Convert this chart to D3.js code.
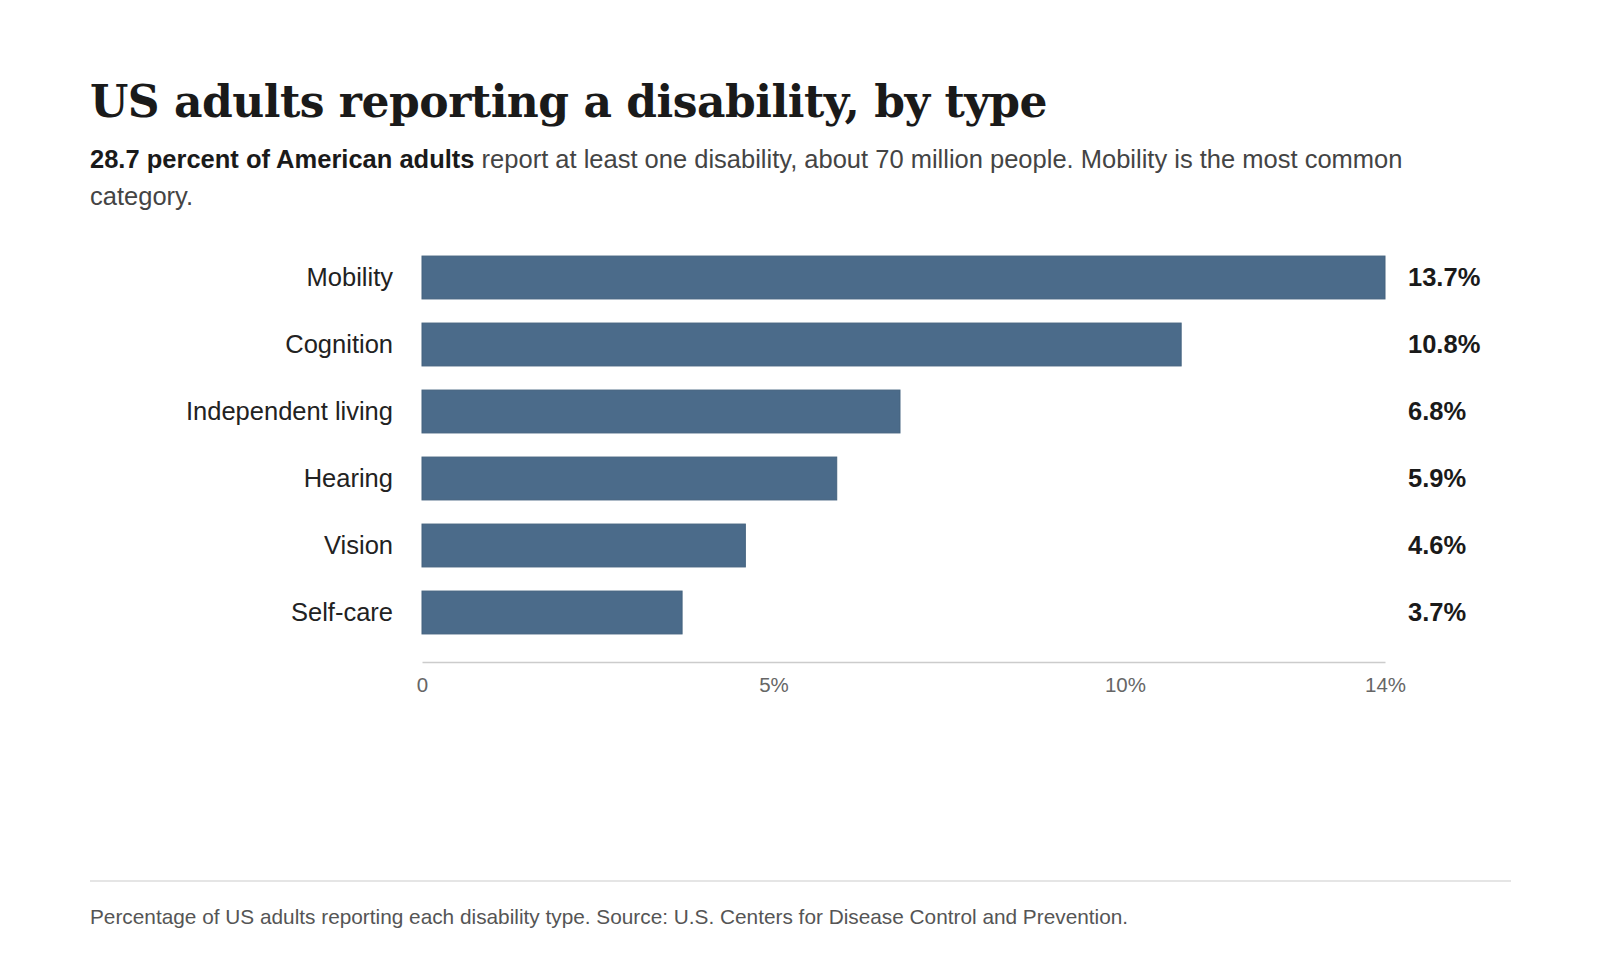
<!DOCTYPE html>
<html>
<head>
<meta charset="utf-8">
<script src="https://cdn.jsdelivr.net/npm/d3@7"></script>
<style>
  html, body { margin: 0; padding: 0; background: #fff; }
  svg { display: block; }
</style>
</head>
<body>
<div id="chart"></div>
<script>
// Data
const categories = ["Mobility", "Cognition", "Independent living", "Hearing", "Vision", "Self-care"];
const values = [13.7, 10.8, 6.8, 5.9, 4.6, 3.7];
const tickValues = [0, 5, 10, 13.7];

const titleText = "US adults reporting a disability, by type";
const subtitleBold = "28.7 percent of American adults";
const subtitleRest = " report at least one disability, about 70 million people. Mobility is the most common";
const subtitleLine2 = "category.";
const footerText = "Percentage of US adults reporting each disability type. Source: U.S. Centers for Disease Control and Prevention.";

const width = 1600, height = 960;
const left = 90, right = 1511;
const sans = "'Liberation Sans', Arial, Helvetica, sans-serif";

const svg = d3.select("#chart").append("svg")
    .attr("width", width)
    .attr("height", height)
    .attr("viewBox", `0 0 ${width} ${height}`);

svg.append("rect")
    .attr("width", width)
    .attr("height", height)
    .attr("fill", "#fff");

// Title + subtitle
svg.append("text")
    .attr("x", left)
    .attr("y", 117)
    .attr("font-family", "'DejaVu Serif', Georgia, serif")
    .attr("font-weight", "bold")
    .attr("font-size", 44)
    .attr("letter-spacing", -0.5)
    .attr("fill", "#1a1a1a")
    .text(titleText);

const sub = svg.append("text")
    .attr("font-family", sans)
    .attr("font-size", 25.5)
    .attr("fill", "#444");
const line1 = sub.append("tspan").attr("x", left).attr("y", 168);
line1.append("tspan").attr("font-weight", "bold").attr("fill", "#1a1a1a").text(subtitleBold);
line1.append("tspan").text(subtitleRest);
sub.append("tspan").attr("x", left).attr("y", 205).text(subtitleLine2);

// Scales
const x = d3.scaleLinear()
    .domain([0, d3.max(values)])
    .range([422, 1385]);

const y = d3.scaleBand()
    .domain(categories)
    .range([244, 646])
    .paddingInner(0.36)
    .paddingOuter(0.18);

const rows = categories.map((c, i) => ({ cat: c, val: values[i] }));

// Bars
svg.append("g").selectAll("rect")
    .data(rows)
    .join("rect")
    .attr("x", x(0))
    .attr("y", d => y(d.cat))
    .attr("width", d => x(d.val) - x(0))
    .attr("height", y.bandwidth())
    .attr("fill", "#4b6b8a")
    .attr("stroke", "#44637f")
    .attr("stroke-width", 1);

// Category labels
svg.append("g").selectAll("text")
    .data(rows)
    .join("text")
    .attr("x", x(0) - 29)
    .attr("y", d => y(d.cat) + y.bandwidth() / 2)
    .attr("dy", "0.35em")
    .attr("text-anchor", "end")
    .attr("font-family", sans)
    .attr("font-size", 25.5)
    .attr("fill", "#222")
    .text(d => d.cat);

// Value labels, aligned in a column right of the axis end
svg.append("g").selectAll("text")
    .data(rows)
    .join("text")
    .attr("x", x.range()[1] + 23)
    .attr("y", d => y(d.cat) + y.bandwidth() / 2)
    .attr("dy", "0.35em")
    .attr("font-family", sans)
    .attr("font-weight", "bold")
    .attr("font-size", 25.5)
    .attr("fill", "#1a1a1a")
    .text(d => d.val.toFixed(1) + "%");

// X axis
const axisY = 662;
const xAxis = d3.axisBottom(x)
    .tickValues(tickValues)
    .tickSize(0)
    .tickPadding(15)
    .tickFormat(d => d === 0 ? "0" : d3.format(".0f")(d) + "%");

const gx = svg.append("g")
    .attr("transform", `translate(0,${axisY})`)
    .call(xAxis);
gx.select(".domain")
    .attr("stroke", "#ccc")
    .attr("stroke-width", 1.5);
gx.selectAll(".tick text")
    .attr("font-family", sans)
    .attr("font-size", 20.5)
    .attr("fill", "#666");

// Footer
svg.append("line")
    .attr("x1", left)
    .attr("x2", right)
    .attr("y1", 881)
    .attr("y2", 881)
    .attr("stroke", "#ddd")
    .attr("stroke-width", 1.5);

svg.append("text")
    .attr("x", left)
    .attr("y", 924)
    .attr("font-family", sans)
    .attr("font-size", 20.8)
    .attr("fill", "#555")
    .text(footerText);
</script>
</body>
</html>
